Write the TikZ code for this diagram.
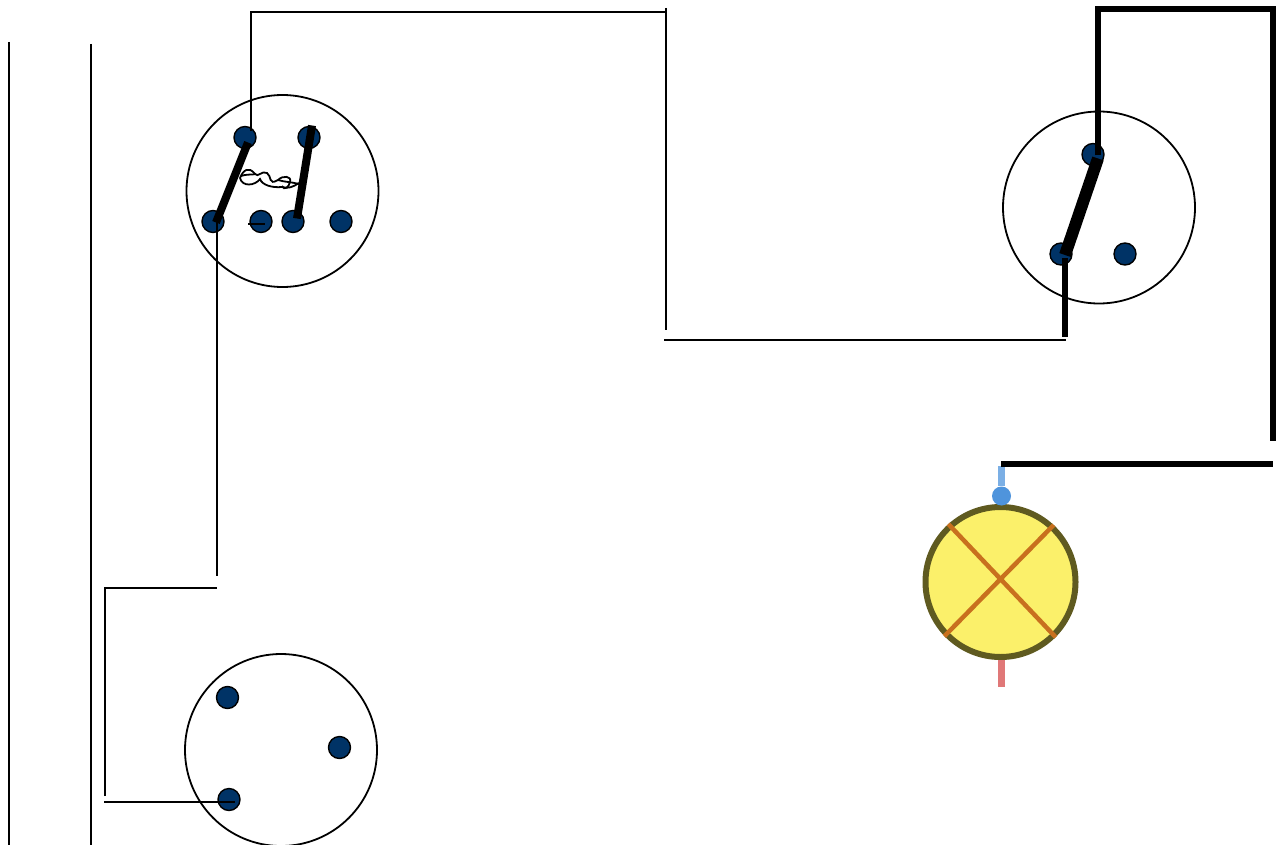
\documentclass[tikz,border=0pt]{standalone}
\usepackage{amsmath}
\usepackage{tikz}
\definecolor{contactblue}{HTML}{003366}
\definecolor{lampyellow}{HTML}{FBF06A}
\definecolor{lampring}{HTML}{5F5A20}
\definecolor{lampcross}{HTML}{C8701E}
\definecolor{lampblue}{HTML}{4F94DC}
\definecolor{lampred}{HTML}{E07878}
\tikzset{
  switchbox/.style={circle,draw,line width=1.8pt,minimum size=192pt,inner sep=0pt},
  contact/.style={circle,draw,fill=contactblue,line width=1.4pt,minimum size=22pt,inner sep=0pt},
  wire/.style={line width=2pt},
  heavywire/.style={line width=6pt},
  lever/.style={line width=8pt},
  twist/.style={line width=1.8pt}
}

\begin{document}
\begin{tikzpicture}[x=1pt,y=-1pt]
\useasboundingbox (0,0) rectangle (1281,845);

% switch top left
\node[switchbox] (sw1) at (282.5,191) {};
\node[contact] (a1) at (245,137.5) {};
\node[contact] (a2) at (309,137.5) {};
\node[contact] (a3) at (213,221.5) {};
\node[contact] (a4) at (261,221.5) {};
\node[contact] (a5) at (293,221.5) {};
\node[contact] (a6) at (341,221.5) {};

% socket bottom left
\node[switchbox] (sw2) at (281,750) {};
\node[contact] (b1) at (227.5,697.5) {};
\node[contact] (b2) at (339.5,747.5) {};
\node[contact] (b3) at (229,799.5) {};

% switch top right
\node[switchbox] (sw3) at (1099,207.5) {};
\node[contact] (c1) at (1093,154.5) {};
\node[contact] (c2) at (1061,254) {};
\node[contact] (c3) at (1125,254) {};

% lamp
\node[circle,draw=lampring,fill=lampyellow,line width=6pt,minimum size=150pt,inner sep=0pt] (lamp) at (1000.5,582) {};
\draw[lampcross,line width=4.5pt] (lamp.132) -- (lamp.-45);
\draw[lampcross,line width=4.5pt] (lamp.47) -- (lamp.-136);
\coordinate (lamptop) at (1001.5,466);
\coordinate (lampend) at (1001.5,687);
\node[circle,fill=lampblue,minimum size=19pt,inner sep=0pt] (lampdot) at (1001.5,496) {};
\draw[lampblue!75,line width=7pt] (lamptop) -- (lampdot);
\draw[lampred,line width=7pt] ([xshift=1pt]lamp.south) -- (lampend);

% rails
\coordinate (r1) at (9,42);
\coordinate (r2) at (9,845);
\coordinate (r3) at (90.5,44);
\coordinate (r4) at (90.5,845);
\draw[wire] (r1) -- (r2);
\draw[wire] (r3) -- (r4);

% thin wires
\coordinate (w1) at (251,12.5);
\coordinate (w2) at (666,12.5);
\coordinate (w3) at (665.5,8);
\coordinate (w4) at (665.5,330);
\coordinate (w5) at (664,340);
\coordinate (w6) at (1066,340);
\coordinate (w7) at (216.5,576);
\coordinate (w9) at (217,588);
\coordinate (w10) at (105,796);
\coordinate (w11) at (104,802);
\coordinate (w12) at (248,223.5);
\draw[wire] ([xshift=6pt,yshift=6pt]a1.center) -- (w1) -- (w2);
\draw[wire] (w3) -- (w4);
\draw[wire] (w5) -- (w6);
\draw[wire] ([xshift=3.5pt]a3.center) -- (w7);
\draw[wire] (w10) |- (w9);
\draw[wire] (w11) -- ([xshift=6pt,yshift=-2.5pt]b3.center);
\draw[wire] (w12) -- ([xshift=4pt,yshift=-2pt]a4.center);

% levers
\draw[lever] ([xshift=3pt,yshift=-1pt]a3.center) -- ([xshift=3pt,yshift=-5pt]a1.center);
\draw[lever] ([xshift=4pt,yshift=3pt]a5.center) -- ([xshift=3pt,yshift=12pt]a2.center);
\draw[line width=12pt] ([xshift=4pt,yshift=-1pt]c2.center) -- ([xshift=5pt,yshift=-4pt]c1.center);

% twisted link
\draw[twist] (240,178) .. controls (243,170) and (249,166) .. (255,174)
  .. controls (258,178) and (262,170) .. (267,173)
  .. controls (272,176) and (268,186) .. (278,180)
  .. controls (283,175) and (292,176) .. (290,182)
  .. controls (289,187) and (284,191) .. (282,186);
\draw[twist] (240,178) .. controls (242,187) and (255,186) .. (260,179)
  .. controls (262,185) and (272,188) .. (282,187)
  .. controls (288,189) and (293,187) .. (299,183);
\draw[twist] (241,176) .. controls (246,174) and (252,175) .. (256,174);
\draw[twist] (278,180) .. controls (284,182) and (292,182) .. (299,184);

% heavy wires
\coordinate (h1) at (1097.5,9);
\coordinate (h2) at (1273,9);
\coordinate (h3) at (1273,441);
\coordinate (h4) at (1065,337);
\coordinate (h5) at (1001,464);
\coordinate (h6) at (1273,464);
\draw[heavywire] ([xshift=4.5pt,yshift=-1pt]c1.center) -- (h1) -- (h2) -- (h3);
\draw[heavywire] ([xshift=4pt,yshift=-4pt]c2.center) -- (h4);
\draw[heavywire] (h5) -- (h6);

\end{tikzpicture}
\end{document}
